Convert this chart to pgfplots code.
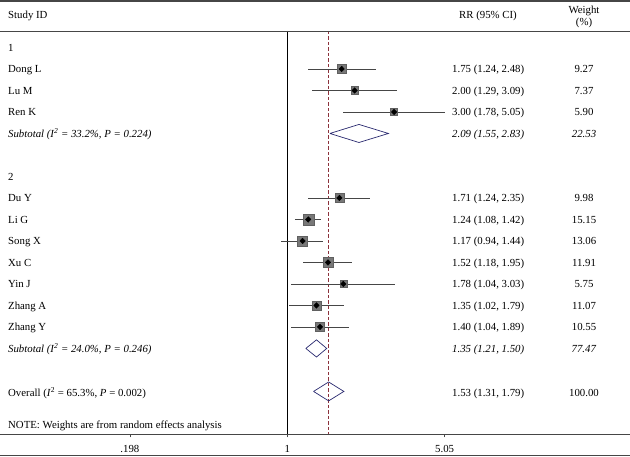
\documentclass[border=0pt]{standalone}
\usepackage{fontspec}
\setmainfont{Liberation Serif}
\usepackage{pgfplots}
\pgfplotsset{compat=1.18}
\usepackage{pgfplotstable}

\definecolor{rulegray}{RGB}{70,70,70}
\definecolor{cigray}{RGB}{70,70,70}
\definecolor{sqgray}{RGB}{120,120,120}
\definecolor{navy}{RGB}{40,40,110}
\definecolor{refred}{RGB}{140,50,60}

\tikzset{
  txt/.style={font=\fontsize{10.8}{12}\selectfont},
  lt/.style={txt, anchor=base west, yshift=-3.8pt, inner sep=0pt},
  ct/.style={txt, anchor=base, yshift=-3.8pt, inner sep=0pt},
}

% row: position in the table (0 = first group heading)
\pgfplotstableread{
row rr   lo   hi   w
1   1.75 1.24 2.48 9.27
2   2.00 1.29 3.09 7.37
3   3.00 1.78 5.05 5.90
7   1.71 1.24 2.35 9.98
8   1.24 1.08 1.42 15.15
9   1.17 0.94 1.44 13.06
10  1.52 1.18 1.95 11.91
11  1.78 1.04 3.03 5.75
12  1.35 1.02 1.79 11.07
13  1.40 1.04 1.89 10.55
}\studies

\begin{document}
\begin{tikzpicture}
\pgfplotsset{
  fplot/.style={
    width=630pt, height=403pt, scale only axis,
    ymin=-17.98, ymax=0.767,
    clip=false,
  },
}
% data axis (log scale)
\begin{axis}[
  fplot,
  xmode=log,
  xmin=0.0520, xmax=34.0,
  axis x line*=bottom,
  axis y line=none,
  x axis line style={rulegray, line width=0.8pt},
  xtick={0.198,1,5.05},
  xticklabels={.198,1,5.05},
  ytick=\empty,
  tick align=outside,
  major tick length=3.5pt,
  x tick style={rulegray, line width=0.6pt},
  x tick label style={font=\fontsize{10.8}{12}\selectfont, yshift=-4pt},
]
% reference lines
\addplot[black, line width=0.8pt] coordinates {(1,0.767) (1,-17.98)};
\addplot[refred, line width=0.7pt, dash pattern=on 3.5pt off 2pt] coordinates {(1.53,0.767) (1.53,-17.98)};

% confidence intervals
\addplot[cigray, line width=0.6pt] coordinates {(1.24,-1) (2.48,-1)};
\addplot[cigray, line width=0.6pt] coordinates {(1.29,-2) (3.09,-2)};
\addplot[cigray, line width=0.6pt] coordinates {(1.78,-3) (5.05,-3)};
\addplot[cigray, line width=0.6pt] coordinates {(1.24,-7) (2.35,-7)};
\addplot[cigray, line width=0.6pt] coordinates {(1.08,-8) (1.42,-8)};
\addplot[cigray, line width=0.6pt] coordinates {(0.94,-9) (1.44,-9)};
\addplot[cigray, line width=0.6pt] coordinates {(1.18,-10) (1.95,-10)};
\addplot[cigray, line width=0.6pt] coordinates {(1.04,-11) (3.03,-11)};
\addplot[cigray, line width=0.6pt] coordinates {(1.02,-12) (1.79,-12)};
\addplot[cigray, line width=0.6pt] coordinates {(1.04,-13) (1.89,-13)};

% weight boxes
\addplot[scatter, only marks, mark=square*,
  scatter/use mapped color={draw=sqgray!80!black, fill=sqgray},
  visualization depends on={1.415*sqrt(\thisrow{w}) \as \msize},
  scatter/@pre marker code/.append style={/tikz/mark size=\msize}]
  table[x=rr, y expr=-\thisrow{row}] {\studies};
% point estimates
\addplot[only marks, mark=diamond*, mark size=2.8pt, mark options={xscale=1.3}, black]
  table[x=rr, y expr=-\thisrow{row}] {\studies};

% pooled estimates
\addplot[navy, line width=0.7pt] coordinates {(1.55,-4) (2.09,-3.58) (2.83,-4) (2.09,-4.42) (1.55,-4)};
\addplot[navy, line width=0.7pt] coordinates {(1.21,-14) (1.35,-13.6) (1.50,-14) (1.35,-14.4) (1.21,-14)};
\addplot[navy, line width=0.7pt] coordinates {(1.31,-16) (1.53,-15.56) (1.79,-16) (1.53,-16.44) (1.31,-16)};
\end{axis}

% text axis (linear, pixel-like x)
\begin{axis}[
  fplot, hide axis,
  xmin=0, xmax=630,
]
% rules
\draw[rulegray, line width=1.8pt] (axis cs:0,2.15) -- (axis cs:630,2.15);
\draw[rulegray, line width=0.8pt] (axis cs:0,0.767) -- (axis cs:630,0.767);
\draw[rulegray, line width=1.8pt] (axis cs:0,-18.98) -- (axis cs:630,-18.98);

% header
\node[lt] at (axis cs:8,1.535) {Study ID};
\node[ct] at (axis cs:488,1.535) {RR (95\% CI)};
\node[ct] at (axis cs:584,1.767) {Weight};
\node[ct] at (axis cs:584,1.186) {(\%)};

% study labels
\node[lt] at (axis cs:8,0) {1};
\node[lt] at (axis cs:8,-1) {Dong L};
\node[lt] at (axis cs:8,-2) {Lu M};
\node[lt] at (axis cs:8,-3) {Ren K};
\node[lt] at (axis cs:8,-4) {\textit{Subtotal (I\textsuperscript{2} = 33.2\%, P = 0.224)}};
\node[lt] at (axis cs:8,-6) {2};
\node[lt] at (axis cs:8,-7) {Du Y};
\node[lt] at (axis cs:8,-8) {Li G};
\node[lt] at (axis cs:8,-9) {Song X};
\node[lt] at (axis cs:8,-10) {Xu C};
\node[lt] at (axis cs:8,-11) {Yin J};
\node[lt] at (axis cs:8,-12) {Zhang A};
\node[lt] at (axis cs:8,-13) {Zhang Y};
\node[lt] at (axis cs:8,-14) {\textit{Subtotal (I\textsuperscript{2} = 24.0\%, P = 0.246)}};
\node[lt] at (axis cs:8,-16.05) {Overall (\textit{I}\textsuperscript{2} = 65.3\%, \textit{P} = 0.002)};
\node[lt] at (axis cs:8,-17.56) {NOTE: Weights are from random effects analysis};

% RR (95% CI)
\node[lt] at (axis cs:452,-1) {1.75 (1.24, 2.48)};
\node[lt] at (axis cs:452,-2) {2.00 (1.29, 3.09)};
\node[lt] at (axis cs:452,-3) {3.00 (1.78, 5.05)};
\node[lt] at (axis cs:452,-4) {\textit{2.09 (1.55, 2.83)}};
\node[lt] at (axis cs:452,-7) {1.71 (1.24, 2.35)};
\node[lt] at (axis cs:452,-8) {1.24 (1.08, 1.42)};
\node[lt] at (axis cs:452,-9) {1.17 (0.94, 1.44)};
\node[lt] at (axis cs:452,-10) {1.52 (1.18, 1.95)};
\node[lt] at (axis cs:452,-11) {1.78 (1.04, 3.03)};
\node[lt] at (axis cs:452,-12) {1.35 (1.02, 1.79)};
\node[lt] at (axis cs:452,-13) {1.40 (1.04, 1.89)};
\node[lt] at (axis cs:452,-14) {\textit{1.35 (1.21, 1.50)}};
\node[lt] at (axis cs:452,-16.05) {1.53 (1.31, 1.79)};

% weights
\node[ct] at (axis cs:584,-1) {9.27};
\node[ct] at (axis cs:584,-2) {7.37};
\node[ct] at (axis cs:584,-3) {5.90};
\node[ct] at (axis cs:584,-4) {\textit{22.53}};
\node[ct] at (axis cs:584,-7) {9.98};
\node[ct] at (axis cs:584,-8) {15.15};
\node[ct] at (axis cs:584,-9) {13.06};
\node[ct] at (axis cs:584,-10) {11.91};
\node[ct] at (axis cs:584,-11) {5.75};
\node[ct] at (axis cs:584,-12) {11.07};
\node[ct] at (axis cs:584,-13) {10.55};
\node[ct] at (axis cs:584,-14) {\textit{77.47}};
\node[ct] at (axis cs:584,-16.05) {100.00};
\end{axis}
\pgfresetboundingbox
\path[use as bounding box] (0,-23pt) rectangle (630pt,434pt);
\end{tikzpicture}
\end{document}
